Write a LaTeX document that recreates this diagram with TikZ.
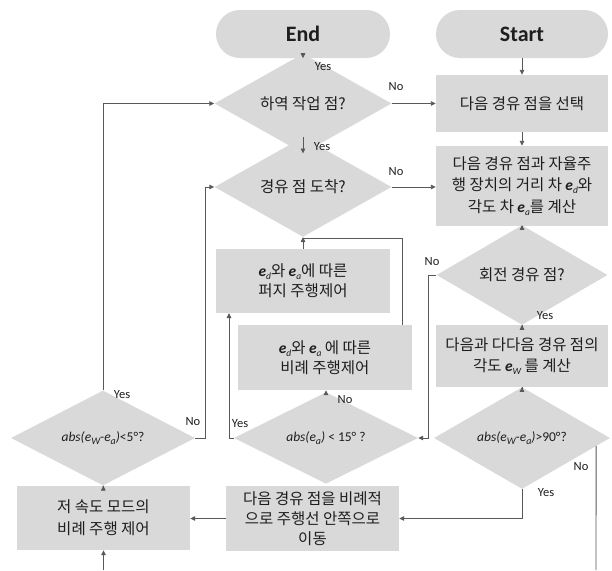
\documentclass[tikz,border=0pt]{standalone}
\usepackage{fontspec}
\setmainfont{Noto Sans CJK KR}
\newfontfamily\latf{Carlito}
\usetikzlibrary{shapes.geometric,arrows.meta,calc}
\definecolor{boxfill}{RGB}{217,217,217}
\definecolor{linec}{RGB}{89,89,89}
\definecolor{txt}{RGB}{30,30,30}
\newcommand\ev[1]{{\latf\bfseries\itshape e}\raisebox{-0.35ex}{\latf\itshape\fontsize{9.5}{9.5}\selectfont #1}}
\newcommand\es[1]{{\latf\itshape e}\raisebox{-0.35ex}{\latf\itshape\fontsize{10}{10}\selectfont #1}}
\tikzset{
  box/.style={rectangle, fill=boxfill, draw=none, inner sep=0pt, align=center, text=txt, font=\fontsize{15.5}{20}\selectfont},
  dia/.style={diamond, fill=boxfill, draw=none, inner sep=0pt, align=center, text=txt, font=\fontsize{15.5}{20}\selectfont},
  term/.style={rectangle, rounded corners=23.9pt, fill=boxfill, draw=none, minimum width=174pt, minimum height=48pt, text=txt, font=\latf\bfseries\fontsize{22}{26}\selectfont},
  arr/.style={draw=linec, line width=0.9pt, -{Triangle[length=5pt,width=4.5pt]}},
  ln/.style={draw=linec, line width=0.9pt},
  lab/.style={font=\latf\fontsize{12.5}{14}\selectfont, text=txt, inner sep=0pt},
  expr/.style={font=\latf\fontsize{13.5}{15}\selectfont}
}
\begin{document}
\begin{tikzpicture}[x=1pt,y=-1pt]
\useasboundingbox (0,0) rectangle (612,570);
% terminals
\node[term] (end) at (303,34) {End};
\node[term, minimum width=172pt] (start) at (522,34) {Start};
% right column
\node[box, minimum width=172pt, minimum height=57pt] (b1) at (522,103.5) {다음 경유 점을 선택};
\node[box, minimum width=172pt, minimum height=80pt, font=\fontsize{15.5}{21.5}\selectfont] (b2) at (522,186) {다음 경유 점과 자율주\\행 장치의 거리 차 \ev{d}와\\각도 차 \ev{a}를 계산};
\node[dia, minimum width=171pt, minimum height=70pt] (d1) at (522,275) {회전 경유 점?};
\node[box, minimum width=172pt, minimum height=62pt, font=\fontsize{15.5}{21}\selectfont] (b3) at (522,356) {다음과 다다음 경유 점의\\각도 \ev{W} 를 계산};
\node[dia, expr, minimum width=176pt, minimum height=70pt] (d2) at (522,438) {\itshape abs(\es{W}-\es{a})\upshape >90°?};
% middle column
\node[dia, minimum width=177pt, minimum height=70pt] (d5) at (303,103.5) {하역 작업 점?};
\node[dia, minimum width=177pt, minimum height=70pt] (d4) at (303,187) {경유 점 도착?};
\node[box, minimum width=174pt, minimum height=64pt] (b5) at (303,281) {\ev{d}와 \ev{a}에 따른\\퍼지 주행제어};
\node[box, minimum width=174pt, minimum height=65pt] (b4) at (325,357.5) {\ev{d}와 \ev{a} 에 따른\\비례 주행제어};
\node[dia, expr, minimum width=184pt, minimum height=70pt] (d3) at (326,438) {\itshape abs(\es{a})\upshape{} < 15° ?};
\node[box, minimum width=173pt, minimum height=65pt] (b7) at (312.5,518.5) {다음 경유 점을 비례적\\으로 주행선 안쪽으로\\이동};
% left column
\node[dia, expr, minimum width=184pt, minimum height=70pt] (d6) at (103,438) {\itshape abs(\es{W}-\es{a})\upshape <5°?};
\node[box, minimum width=173pt, minimum height=64pt, font=\fontsize{15.5}{22}\selectfont] (b6) at (103.5,518) {저 속도 모드의\\비례 주행 제어};
% free coordinates
\coordinate (bin) at (103.5,570);
\coordinate (nout) at (596,570);
\coordinate (j) at (303,238);
% connectors right column
\draw[arr] (start) -- (b1);
\draw[arr] (b1) -- (b2);
\draw[arr] (b2) -- (d1);
\draw[arr] (d1) -- (b3);
\draw[arr] (b3) -- (d2);
\draw[arr] (d1.west) -- (428,275) -- (428,438) -- (d3.east);
\draw[arr] (d2.south) |- (b7.east);
\draw[ln] ($(d2.east)!0.16!(d2.south)$) -- (nout);
% middle
\draw[arr] (d5) -- (end);
\draw[arr] (d5.east) -- (b1.west);
\draw[arr] (d4) -- (d5);
\draw[arr] (d4.east) -- (b2.west |- d4.east);
\draw[arr] (b5) -- (d4);
\draw[ln] (402,325) -- (402,238) -- (j);
\draw[arr] (d3.north) -- (d3.north |- b4.south);
\draw[arr] (d3.west) -- (229,438) -- (229,313);
\draw[arr] (b7.west) -- (b6.east |- b7.west);
% left
\draw[arr] (bin) -- (b6.south);
\draw[arr] (b6) -- (d6);
\draw[arr] (d6.north) -- (103,103.5) -- (d5.west);
\draw[arr] (d6.east) -- (205,438) -- (205,187) -- (d4.west);
% labels
\node[lab] (l1) at (323,67) {Yes};
\node[lab] (l2) at (396,87) {No};
\node[lab] (l3) at (322,147) {Yes};
\node[lab] (l4) at (396,172) {No};
\node[lab] (l5) at (432,262) {No};
\node[lab] (l6) at (545,316) {Yes};
\node[lab] (l7) at (581,467) {No};
\node[lab] (l8) at (546,493) {Yes};
\node[lab] (l9) at (345,400) {No};
\node[lab] (l10) at (240,424) {Yes};
\node[lab] (l11) at (122,395) {Yes};
\node[lab] (l12) at (193,422) {No};
\end{tikzpicture}
\end{document}
